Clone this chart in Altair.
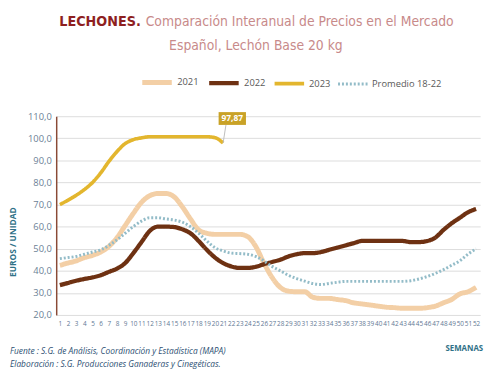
import altair as alt
import pandas as pd

weeks = list(range(1, 53))
s2021 = [42.5, 43.5, 44.5, 46, 47, 48.5, 51, 55, 60.5, 66,
         71, 74, 75, 75, 73.5, 69, 63.5, 58.5, 57, 56.5,
         56.5, 56.5, 56.5, 55.5, 51, 43.5, 37, 32.5, 30.8, 30.5,
         30.5, 28, 27.5, 27.5, 27, 26.5, 25.5, 25, 24.5, 24,
         23.5, 23.3, 23, 23, 23, 23.3, 24, 25.5, 27, 29.5,
         30.5, 32.5]
s2022 = [33.5, 34.5, 35.5, 36.3, 37, 38, 39.5, 41, 43.5, 48,
         53, 58, 60, 60, 59.8, 58.8, 57, 53.5, 49.5, 46,
         43.5, 42, 41.3, 41.3, 41.8, 43, 44, 45, 46.5, 47.5,
         48, 48, 48.5, 49.5, 50.5, 51.5, 52.5, 53.5, 53.5, 53.5,
         53.5, 53.5, 53.5, 53, 53, 53.5, 55, 58.5, 61.5, 64,
         66.5, 68]
s2023 = [70, 72, 74.2, 76.8, 80, 84.3, 89.5, 94, 97.6, 99.4,
         100.2, 100.7, 100.7, 100.7, 100.7, 100.7, 100.7, 100.7, 100.7, 100.3,
         97.87]
prom = [45.5, 46, 46.5, 47.5, 48.5, 49.5, 51.5, 54, 57, 60,
        62.5, 64, 64, 63.5, 63, 62, 60, 57, 53.5, 50.5,
        49, 48, 47.8, 47.5, 46.5, 44.5, 42, 40, 38, 36.5,
        35.3, 34.2, 33.8, 34.3, 34.8, 35.2, 35.2, 35.2, 35.2, 35.2,
        35.2, 35.2, 35.2, 35.5, 36.3, 37.4, 38.8, 40.5, 42.5, 44.5,
        47.5, 50]
y_ticks = [20, 30, 40, 50, 60, 70, 80, 90, 100, 110]

series_names = ["2021", "2022", "2023", "Promedio 18-22"]
series_colors = ["#f3cfa6", "#6e3112", "#e3b62e", "#93bcc8"]
series_widths = [5, 3, 4, 2.5]
series_dash = [[1, 0], [1, 0], [1, 0], [2, 2]]

rows = []
for name, vals in zip(series_names, [s2021, s2022, s2023, prom]):
    for w, v in zip(weeks, vals):
        rows.append({"semana": w, "valor": v, "serie": name})
df = pd.DataFrame(rows)

last_week = len(s2023)
last_val = s2023[-1]
label_df = pd.DataFrame([{"semana": last_week, "valor": last_val,
                          "txt": f"{last_val:.2f}".replace(".", ",")}])

x_scale = alt.Scale(domain=[0.55, 52.5], nice=False, zero=False)
y_scale = alt.Scale(domain=[20, 110], nice=False, zero=False)


def leg():
    return alt.Legend(orient="none", legendX=85, legendY=-52, direction="horizontal",
                      title=None, symbolType="stroke", symbolSize=900,
                      labelFontSize=9.5, labelColor="#595959", labelFont="Open Sans",
                      columnPadding=1, labelOffset=3)


lines = alt.Chart(df).mark_line(interpolate="monotone").encode(
    x=alt.X("semana:Q", scale=x_scale, title=None,
            axis=alt.Axis(values=weeks, tickCount=len(weeks) + 10, title=None)),
    y=alt.Y("valor:Q", scale=y_scale, title=None,
            axis=alt.Axis(values=y_ticks, tickCount=len(y_ticks) + 5, title=None,
                          labelExpr="replace(format(datum.value, '.1f'), '.', ',')")),
    color=alt.Color("serie:N", scale=alt.Scale(domain=series_names, range=series_colors),
                    legend=leg()),
    strokeWidth=alt.StrokeWidth("serie:N", scale=alt.Scale(domain=series_names, range=series_widths),
                                legend=leg()),
    strokeDash=alt.StrokeDash("serie:N", scale=alt.Scale(domain=series_names, range=series_dash),
                              legend=leg()),
    order=alt.Order("semana:Q"),
)

# value label for the last 2023 point
leader = alt.Chart(label_df).mark_rule(color="#bdbdbd", strokeWidth=1).transform_calculate(
    x2v="datum.semana + 0.35", y2v="datum.valor + 8.2"
).encode(x=alt.X("semana:Q", title=None), y=alt.Y("valor:Q", title=None), x2="x2v:Q", y2="y2v:Q")

box = alt.Chart(label_df).mark_rect(color="#c9a227").transform_calculate(
    bx1="datum.semana - 0.55", bx2="datum.semana + 2.8",
    by1="datum.valor + 8.2", by2="datum.valor + 14.0"
).encode(x=alt.X("bx1:Q", title=None), x2="bx2:Q", y=alt.Y("by1:Q", title=None), y2="by2:Q")

box_txt = alt.Chart(label_df).mark_text(color="white", fontSize=8.5, font="Open Sans",
                                        fontWeight="bold").transform_calculate(
    tx="datum.semana + 1.12", ty="datum.valor + 11.1"
).encode(x=alt.X("tx:Q", title=None), y=alt.Y("ty:Q", title=None), text="txt:N")

ann = pd.DataFrame([{"a": 1}])
base = alt.Chart(ann)

TF = "DejaVu Sans Condensed"
t1 = base.mark_text(text="LECHONES.", font=TF, fontSize=14.5, fontWeight="bold",
                    color="#8e1f1f", align="right", baseline="alphabetic").encode(
    x=alt.value(86), y=alt.value(-92))
t2 = base.mark_text(text="Comparación  Interanual  de  Precios  en  el  Mercado",
                    font=TF, fontSize=14, color="#c88a8a",
                    align="left", baseline="alphabetic").encode(x=alt.value(91), y=alt.value(-92))
t3 = base.mark_text(text="Español,  Lechón  Base  20  kg", font=TF,
                    fontSize=14, color="#c88a8a", align="center",
                    baseline="alphabetic").encode(x=alt.value(203), y=alt.value(-67))

ytitle = base.mark_text(text="EUROS / UNIDAD", font="Open Sans", fontSize=8.5, fontWeight="bold",
                        color="#2f7187", angle=270, align="center", baseline="middle").encode(
    x=alt.value(-44), y=alt.value(128))
xtitle = base.mark_text(text="SEMANAS", font="Open Sans", fontSize=8, fontWeight="bold",
                        color="#2f7187", align="right", baseline="middle").encode(
    x=alt.value(434), y=alt.value(237))
f1 = base.mark_text(text="Fuente :  S.G. de Análisis, Coordinación y Estadística (MAPA)",
                    font="Open Sans", fontSize=8.5, fontStyle="italic", color="#2d4f73",
                    align="left", baseline="middle").encode(x=alt.value(-47), y=alt.value(239))
f2 = base.mark_text(text="Elaboración : S.G. Producciones Ganaderas y Cinegéticas.",
                    font="Open Sans", fontSize=8.5, fontStyle="italic", color="#2d4f73",
                    align="left", baseline="middle").encode(x=alt.value(-47), y=alt.value(252))

chart = alt.layer(lines, leader, box, box_txt, t1, t2, t3, ytitle, xtitle, f1, f2).properties(
    width=431, height=202,
    autosize=alt.AutoSizeParams(type="none"),
    padding={"left": 49, "top": 107, "right": 12, "bottom": 57},
    background="white",
).configure_view(stroke=None).configure_axisX(
    labelOverlap=False, grid=False, domain=False, ticks=False, labelFontSize=6.5,
    labelColor="#5f7894", labelPadding=6, labelFont="Open Sans", labelFlush=False, title=None,
).configure_axisY(
    labelOverlap=False, grid=True, gridColor="#dcdcdc", gridWidth=1, domainColor="#8a4a36",
    domainWidth=1.5, ticks=False, labelFontSize=9.5, labelColor="#6b7f96",
    labelFont="Open Sans", labelPadding=5, title=None,
)

chart.save("out.html", embed_options={"renderer": "svg", "actions": False})
